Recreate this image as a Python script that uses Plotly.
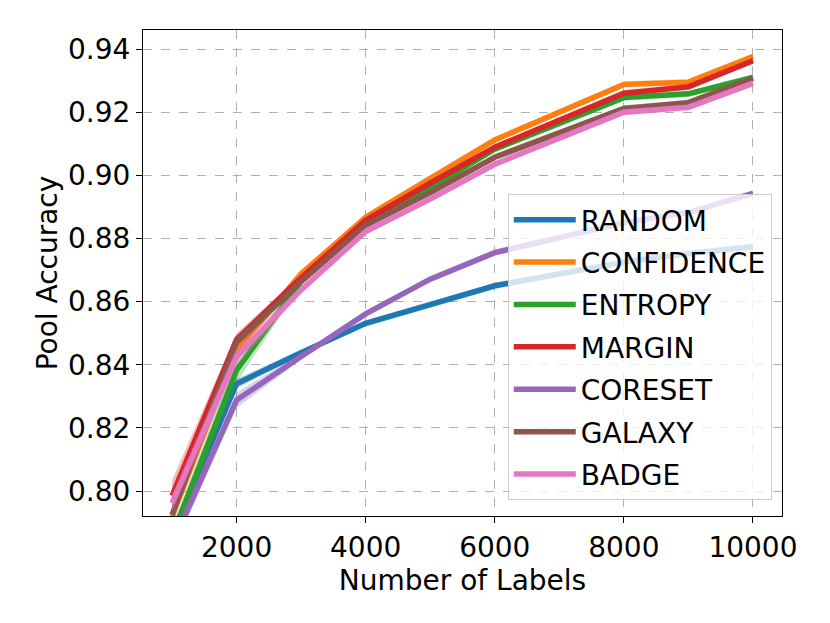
import plotly.graph_objects as go

labels = [1000, 2000, 3000, 4000, 5000, 6000, 8000, 9000, 10000]

random_acc = [0.7860, 0.8340, 0.8438, 0.8531, 0.8590, 0.8650, 0.8725, 0.8752, 0.8774]
confidence_acc = [0.7920, 0.8447, 0.8688, 0.8867, 0.8990, 0.9112, 0.9288, 0.9295, 0.9376]
entropy_acc = [0.7855, 0.8383, 0.8665, 0.8848, 0.8960, 0.9083, 0.9246, 0.9258, 0.9310]
margin_acc = [0.7985, 0.8480, 0.8675, 0.8858, 0.8975, 0.9089, 0.9260, 0.9280, 0.9363]
coreset_acc = [0.7830, 0.8288, 0.8426, 0.8561, 0.8671, 0.8755, 0.8850, 0.8882, 0.8943]
galaxy_acc = [0.7925, 0.8473, 0.8663, 0.8842, 0.8945, 0.9057, 0.9212, 0.9230, 0.9307]
badge_acc = [0.7962, 0.8426, 0.8637, 0.8822, 0.8925, 0.9035, 0.9200, 0.9215, 0.9291]

random_std = [0.003, 0.0015, 0.001, 0.001, 0.001, 0.001, 0.001, 0.001, 0.001]
confidence_std = [0.003, 0.002, 0.001, 0.001, 0.001, 0.001, 0.001, 0.001, 0.001]
entropy_std = [0.003, 0.004, 0.001, 0.001, 0.001, 0.001, 0.001, 0.001, 0.001]
margin_std = [0.005, 0.002, 0.001, 0.001, 0.001, 0.001, 0.001, 0.001, 0.001]
coreset_std = [0.003, 0.0025, 0.001, 0.001, 0.001, 0.001, 0.001, 0.001, 0.001]
galaxy_std = [0.003, 0.002, 0.001, 0.001, 0.001, 0.001, 0.001, 0.001, 0.001]
badge_std = [0.003, 0.003, 0.001, 0.001, 0.001, 0.001, 0.001, 0.001, 0.001]

x_ticks = [2000, 4000, 6000, 8000, 10000]
x_tick_labels = ["2000", "4000", "6000", "8000", "10000"]
y_ticks = [0.80, 0.82, 0.84, 0.86, 0.88, 0.90, 0.92, 0.94]

names = ["RANDOM", "CONFIDENCE", "ENTROPY", "MARGIN", "CORESET", "GALAXY", "BADGE"]
means = [random_acc, confidence_acc, entropy_acc, margin_acc, coreset_acc, galaxy_acc, badge_acc]
stds = [random_std, confidence_std, entropy_std, margin_std, coreset_std, galaxy_std, badge_std]
colors = ["#1f77b4", "#ff7f0e", "#2ca02c", "#d62728", "#9467bd", "#8c564b", "#e377c2"]

def rgba(hexc, a):
    h = hexc.lstrip("#")
    return "rgba(%d,%d,%d,%.2f)" % (int(h[0:2], 16), int(h[2:4], 16), int(h[4:6], 16), a)

fig = go.Figure()
for name, m, s, c in zip(names, means, stds, colors):
    upper = [a + b for a, b in zip(m, s)]
    lower = [a - b for a, b in zip(m, s)]
    fig.add_trace(go.Scatter(
        x=labels + labels[::-1], y=upper + lower[::-1],
        fill="toself", fillcolor=rgba(c, 0.3), line=dict(width=0),
        mode="lines", hoverinfo="skip", showlegend=False, legendgroup=name))
    fig.add_trace(go.Scatter(
        x=labels, y=m, mode="lines", name=name, legendgroup=name,
        line=dict(color=c, width=5.5)))

font = dict(family="DejaVu Sans", size=28, color="black")
axis_common = dict(
    showline=True, linecolor="black", linewidth=1, mirror=True,
    ticks="outside", ticklen=6, tickwidth=1, tickcolor="black",
    showgrid=True, gridcolor="#b0b0b0", gridwidth=1, griddash="dash",
    zeroline=False, tickfont=font, title_font=font, automargin=False)

# page body has an 8px default margin, so size the figure to fit the 830x623 window
fig.update_layout(
    width=822, height=615,
    margin=dict(l=135, r=48, t=22, b=107),
    paper_bgcolor="white", plot_bgcolor="white",
    font=font,
    xaxis=dict(range=[550, 10450], tickvals=x_ticks, ticktext=x_tick_labels,
               title=dict(text="Number of Labels", standoff=0), **axis_common),
    yaxis=dict(range=[0.79208, 0.94602], tickvals=y_ticks, tickformat=".2f",
               title=dict(text="Pool Accuracy", standoff=2), **axis_common),
    legend=dict(x=0.984, y=0.033, xanchor="right", yanchor="bottom",
                bgcolor="rgba(255,255,255,0.8)", bordercolor="#cccccc",
                borderwidth=1, font=font, tracegroupgap=3, itemwidth=62),
    showlegend=True,
)

fig.write_html("out.html")
